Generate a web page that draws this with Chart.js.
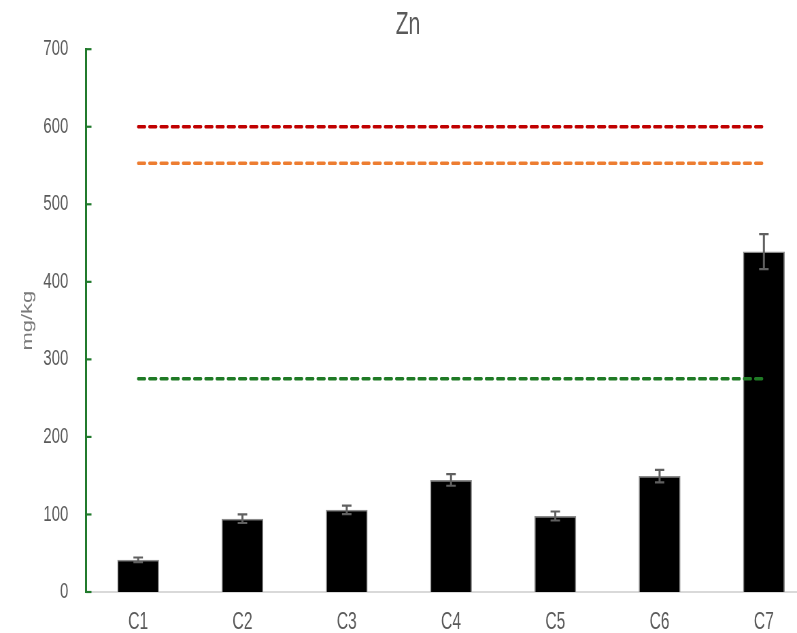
<!DOCTYPE html>
<html>
<head>
<meta charset="utf-8">
<script src="https://cdn.jsdelivr.net/npm/chart.js@4"></script>
<style>
  html, body { margin: 0; padding: 0; background: #ffffff; }
  #frame { width: 797px; height: 633px; overflow: hidden; position: relative; }
  /* the chart is laid out wide and narrowed horizontally, giving the condensed look */
  #chart { position: absolute; left: 0; top: 0; width: 1200px; height: 633px;
           transform: scaleX(0.68); transform-origin: 0 0; }
</style>
</head>
<body>
<div id="frame"><canvas id="chart" width="1200" height="633"></canvas></div>
<script>
// Zn concentration per site (mg/kg) with standard deviations
const categories = ['C1', 'C2', 'C3', 'C4', 'C5', 'C6', 'C7'];
const znMeans  = [41.5, 94.5, 106, 144.5, 98, 149.5, 439];
const znErrors = [3, 5.5, 5.5, 7.5, 5.8, 8, 22.5];

// reference thresholds (mg/kg)
const limitRed = 600;
const limitOrange = 553;
const limitGreen = 275;

const yTickValues = [0, 100, 200, 300, 400, 500, 600, 700];

const textGray = '#595959';
const axisGreen = '#217a2c';

const errorBars = {
  id: 'errorBars',
  afterDatasetsDraw(chart) {
    const meta = chart.getDatasetMeta(0);
    const y = chart.scales.y;
    const ctx = chart.ctx;
    ctx.save();
    ctx.strokeStyle = '#606060';
    meta.data.forEach((bar, i) => {
      const x = bar.x;
      const top = y.getPixelForValue(znMeans[i] + znErrors[i]);
      const bot = y.getPixelForValue(znMeans[i] - znErrors[i]);
      ctx.lineWidth = 3;
      ctx.beginPath();
      ctx.moveTo(x, top); ctx.lineTo(x, bot);
      ctx.stroke();
      ctx.lineWidth = 2.2;
      ctx.beginPath();
      ctx.moveTo(x - 7, top); ctx.lineTo(x + 7, top);
      ctx.moveTo(x - 7, bot); ctx.lineTo(x + 7, bot);
      ctx.stroke();
    });
    ctx.restore();
  }
};

// short tick marks on the inner side of the value axis
const innerTicks = {
  id: 'innerTicks',
  afterDraw(chart) {
    const y = chart.scales.y;
    const ctx = chart.ctx;
    const left = chart.chartArea.left;
    ctx.save();
    ctx.strokeStyle = axisGreen;
    ctx.lineWidth = 2.2;
    y.ticks.forEach(t => {
      const py = y.getPixelForValue(t.value);
      ctx.beginPath();
      ctx.moveTo(left, py); ctx.lineTo(left + 8, py);
      ctx.stroke();
    });
    ctx.restore();
  }
};

function limitLine(value, color) {
  return {
    type: 'line',
    data: categories.map(() => value),
    borderColor: color,
    borderWidth: 3.5,
    borderDash: [10, 6.5],
    borderCapStyle: 'round',
    pointRadius: 0,
    fill: false,
    order: 1
  };
}

new Chart(document.getElementById('chart'), {
  data: {
    labels: categories,
    datasets: [
      {
        type: 'bar',
        data: znMeans,
        backgroundColor: '#000000',
        borderColor: '#8a8a8a',
        borderWidth: 1.5,
        barPercentage: 0.4,
        categoryPercentage: 1.0,
        order: 2
      },
      limitLine(limitRed, '#c00000'),
      limitLine(limitOrange, '#ed7d31'),
      limitLine(limitGreen, '#1f7a25')
    ]
  },
  options: {
    responsive: false,
    animation: false,
    devicePixelRatio: 1,
    layout: { padding: 0 },
    plugins: {
      legend: { display: false },
      tooltip: { enabled: false },
      title: {
        display: true,
        text: 'Zn',
        color: textGray,
        font: { family: 'Liberation Sans', size: 31, weight: 'normal' },
        padding: { top: 7, bottom: 5 }
      }
    },
    scales: {
      x: {
        grid: { display: false, drawTicks: false },
        border: { display: true, color: '#d9d9d9', width: 2 },
        ticks: {
          color: textGray,
          font: { family: 'Liberation Sans', size: 23 },
          padding: 17
        },
        afterFit(scale) { scale.height = 41; }
      },
      y: {
        min: 0,
        max: 700,
        afterBuildTicks(scale) { scale.ticks = yTickValues.map(v => ({ value: v })); },
        grid: { display: false, drawTicks: false },
        border: { display: true, color: axisGreen, width: 3 },
        ticks: {
          color: textGray,
          font: { family: 'Liberation Sans', size: 22 },
          padding: 26
        },
        title: {
          display: true,
          text: 'mg/kg',
          color: '#7a7a7a',
          font: { family: 'Liberation Sans', size: 22, weight: 'normal' },
          padding: { top: 28, bottom: 0 }
        },
        afterFit(scale) { scale.width = 126.5; }
      }
    }
  },
  plugins: [errorBars, innerTicks]
});
</script>
</body>
</html>
